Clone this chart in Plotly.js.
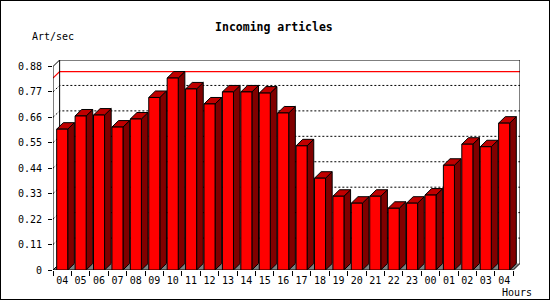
<!DOCTYPE html>
<html>
<head>
<meta charset="utf-8">
<script src="https://cdn.plot.ly/plotly-3.0.1.min.js"></script>
<style>
  html, body { margin: 0; padding: 0; background: #fff; }
  #wrap { position: relative; width: 550px; height: 300px; }
  #chart { width: 550px; height: 300px; }
  #border { position: absolute; left: 0; top: 0; width: 550px; height: 300px; box-sizing: border-box; border: 1px solid #000; pointer-events: none; }
</style>
</head>
<body>
<div id="wrap"><div id="chart"></div><div id="border"></div></div>
<script>
// ---- data ----
const hours = ["04","05","06","07","08","09","10","11","12","13","14","15","16","17","18","19","20","21","22","23","00","01","02","03","04"];
const artPerSec = [0.609,0.666,0.670,0.618,0.653,0.746,0.830,0.783,0.718,0.770,0.770,0.765,0.679,0.537,0.397,0.319,0.289,0.319,0.267,0.289,0.324,0.453,0.544,0.533,0.635];
const yTickVals = [0,0.11,0.22,0.33,0.44,0.55,0.66,0.77,0.88];
const yTickText = ["0","0.11","0.22","0.33","0.44","0.55","0.66","0.77","0.88"];

// ---- 3D geometry (in axis units) ----
const DX = 0.36, DY = 0.028, W = 0.6;
const N = hours.length;
const XL = -0.5, XR = N - 0.5;
const YMAX = yTickVals[yTickVals.length - 1];
const FONT = "DejaVu Sans Mono";

function poly(xs, ys, fill, line) {
  return {
    type: "scatter", mode: "lines", x: xs, y: ys,
    fill: fill ? "toself" : "none", fillcolor: fill || undefined,
    line: line || { width: 0 }, hoverinfo: "skip", cliponaxis: false
  };
}

const traces = [];
// floor
traces.push(poly([XL, XR, XR + DX, XL + DX, XL], [0, 0, DY, DY, 0], "#808080", { width: 0 }));

// dotted grid on side+back walls
const gx = [], gy = [];
yTickVals.forEach(v => {
  if (v > 0 && v < YMAX) { gx.push(XL, XL + DX, XR + DX, null); gy.push(v, v + DY, v + DY, null); }
});
traces.push(poly(gx, gy, null, { color: "#000", width: 1, dash: "2px,2px" }));

// red max line
const vmax = Math.max(...artPerSec);
traces.push(poly([XL, XL + DX, XR + DX], [vmax, vmax + DY, vmax + DY], null, { color: "#ff0000", width: 1.2 }));

// frame lines
const fx = [XL + DX, XL + DX, XR + DX, XR + DX, null,
            XL, XL, XL + DX, null,
            XL, XR, XR + DX, null,
            XL, XL + DX];
const fy = [DY, YMAX + DY, YMAX + DY, DY, null,
            0, YMAX, YMAX + DY, null,
            0, 0, DY, null,
            0, DY];
traces.push(poly(fx, fy, null, { color: "#000", width: 1 }));

// bars
const frX = [], frY = [], sdX = [], sdY = [], tpX = [], tpY = [];
artPerSec.forEach((v, i) => {
  const x0 = i - W / 2, x1 = i + W / 2;
  frX.push(x0, x1, x1, x0, x0, null); frY.push(0, 0, v, v, 0, null);
  sdX.push(x1, x1 + DX, x1 + DX, x1, x1, null); sdY.push(0, DY, v + DY, v, 0, null);
  tpX.push(x0, x1, x1 + DX, x0 + DX, x0, null); tpY.push(v, v, v + DY, v + DY, v, null);
});
const bl = { color: "#000", width: 1 };
traces.push(poly(sdX, sdY, "#800000", bl));
traces.push(poly(tpX, tpY, "#c00000", bl));
traces.push(poly(frX, frY, "#ff0000", bl));

const L = 53, R = 30, T = 60, B = 30;
const PW = 550 - L - R, PH = 300 - T - B;

const layout = {
  width: 550, height: 300,
  margin: { l: L, r: R, t: T, b: B, pad: 0 },
  paper_bgcolor: "#fff", plot_bgcolor: "#fff",
  showlegend: false, hovermode: false,
  font: { family: FONT, size: 10, color: "#000" },
  title: { text: "<b>Incoming articles</b>", x: 0.498, xref: "container", y: 0.91, yref: "container",
           xanchor: "center", yanchor: "middle", font: { family: FONT, size: 11.5, color: "#000" } },
  xaxis: {
    range: [XL, XR + DX], showgrid: false, zeroline: false, showline: false,
    tickmode: "array", tickvals: hours.map((h, i) => i), ticktext: hours,
    ticks: "", ticklen: 0, ticklabelstandoff: 3,
    minor: { tickmode: "array", tickvals: hours.map((h, i) => i - 0.5).concat([N - 0.5]),
             ticks: "outside", ticklen: 5, tickwidth: 1, tickcolor: "#000", showgrid: false },
    tickfont: { family: FONT, size: 10, color: "#000" }, fixedrange: true
  },
  yaxis: {
    range: [0, YMAX + DY], showgrid: false, zeroline: false, showline: false,
    tickmode: "array", tickvals: yTickVals, ticktext: yTickText,
    ticks: "outside", ticklen: 4, tickwidth: 1, tickcolor: "#000",
    ticklabelstandoff: 4,
    tickfont: { family: FONT, size: 10, color: "#000" }, fixedrange: true
  },
  annotations: [
    { text: "Art/sec", xref: "paper", yref: "paper", x: (30 - L) / PW, y: (270 - 36.7) / PH,
      xanchor: "left", yanchor: "middle", showarrow: false, font: { family: FONT, size: 10, color: "#000" } },
    { text: "Hours", xref: "paper", yref: "paper", x: (534 - L) / PW, y: (270 - 292.5) / PH,
      xanchor: "right", yanchor: "middle", showarrow: false, font: { family: FONT, size: 10, color: "#000" } }
  ]
};

Plotly.newPlot("chart", traces, layout, { displayModeBar: false, staticPlot: true });
</script>
</body>
</html>
